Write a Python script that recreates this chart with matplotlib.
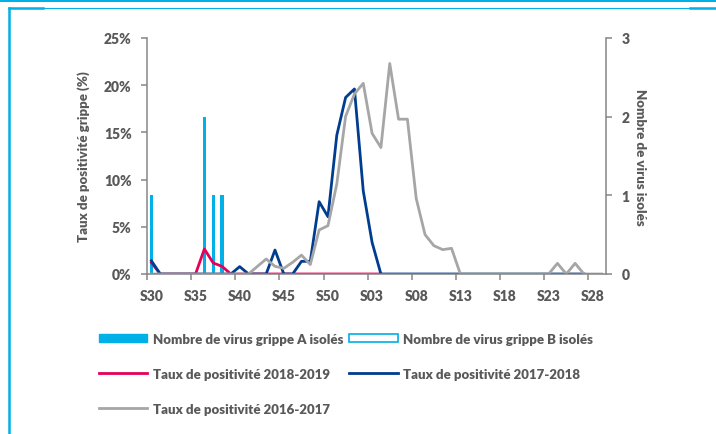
import matplotlib.pyplot as plt
import numpy as np
from matplotlib.patches import Patch
from matplotlib.lines import Line2D

# weeks S30 -> S52, then S01 -> S29
weeks = ['S%02d' % w for w in list(range(30, 53)) + list(range(1, 30))]

# number of influenza A / B viruses isolated (right axis)
virus_a = [1, 0, 0, 0, 0, 0, 2, 1, 1] + [0] * 43
virus_b = [0] * 52

# positivity rate (%) per season (left axis)
taux_2018_2019 = [1.2, 0, 0, 0, 0, 0, 2.65, 1.17, 0.81, 0,
                  0, 0, 0, 0, 0, 0, 0, 0, 0, 0,
                  0, 0, 0, 0, 0, 0, 0]
taux_2017_2018 = [1.4, 0, 0, 0, 0, 0, 0, 0, 0, 0,
                  0.78, 0, 0, 0, 2.54, 0, 0, 1.34, 1.34, 7.66,
                  6.07, 14.7, 18.7, 19.6, 8.8, 3.35, 0, 0, 0, 0,
                  0, 0, 0, 0, 0, 0, 0, 0, 0, 0,
                  0, 0, 0, 0, 0, 0, 0, 0, 0, 0]
taux_2016_2017 = [0, 0, 0, 0, 0, 0, 0, 0, 0, 0,
                  0, 0, 0.8, 1.59, 0.81, 0.6, 1.24, 2.0, 1.0, 4.66,
                  5.12, 9.53, 16.7, 19.07, 20.2, 14.9, 13.4, 22.3, 16.4, 16.4,
                  8.0, 4.17, 3.0, 2.58, 2.72, 0, 0, 0, 0, 0,
                  0, 0, 0, 0, 0, 0, 1.13, 0, 1.13, 0,
                  0, 0]

cyan = '#00B0E6'
red = '#E5005A'
navy = '#003C8F'
grey = '#A6A6A6'
txt = '#595959'
spine_col = '#868686'

plt.rcParams['font.family'] = ['Lato', 'DejaVu Sans']
plt.rcParams['font.weight'] = 'heavy'
fw = 'heavy'
fs = 10

fig = plt.figure(figsize=(7.16, 4.35), dpi=100)
ax = fig.add_axes([147 / 716, 1 - 275 / 435, 459 / 716, 236 / 435])
ax2 = ax.twinx()
ax.set_zorder(2)
ax.patch.set_visible(False)

x = np.arange(len(weeks))

# bars on the secondary axis
ax2.bar(x, virus_a, width=0.36, color=cyan, linewidth=0)
ax2.bar(x, virus_b, width=0.36, bottom=virus_a, color='white', edgecolor=cyan, linewidth=0)

# lines on the primary axis
ax.plot(np.arange(len(taux_2018_2019)), taux_2018_2019, color=red, lw=2)
ax.plot(np.arange(len(taux_2017_2018)), taux_2017_2018, color=navy, lw=2)
ax.plot(np.arange(len(taux_2016_2017)), taux_2016_2017, color=grey, lw=2)

ax.set_xlim(-0.5, len(weeks) - 0.5)
ax.set_ylim(0, 25)
ax2.set_ylim(0, 3)

ax.set_yticks(range(0, 26, 5))
ax.set_yticklabels(['%d%%' % v for v in range(0, 26, 5)])
ax2.set_yticks([0, 1, 2, 3])

# category labels every 5 weeks, tick marks at slot boundaries
ax.set_xticks(x[::5])
ax.set_xticklabels(weeks[::5])
ax.set_xticks(np.arange(-0.5, len(weeks), 5), minor=True)
ax.tick_params(axis='x', which='major', length=0, pad=11, labelsize=fs, colors=txt)
ax.tick_params(axis='x', which='minor', length=4, width=1.1, color=spine_col)
ax.tick_params(axis='y', length=4, width=1.1, color=spine_col, labelcolor=txt, labelsize=fs, pad=7)
ax2.tick_params(axis='y', length=4, width=1.1, color=spine_col, labelcolor=txt, labelsize=fs, pad=7)
for lab in ax.get_xticklabels() + ax.get_yticklabels() + ax2.get_yticklabels():
    lab.set_fontweight(fw)

for a in (ax, ax2):
    a.spines['top'].set_visible(False)
    for s in ('left', 'right', 'bottom'):
        a.spines[s].set_color(spine_col)
        a.spines[s].set_linewidth(1.1)
ax.spines['right'].set_visible(False)
ax2.spines['left'].set_visible(False)
ax2.spines['bottom'].set_visible(False)

ax.set_ylabel('Taux de positivité grippe (%)', color=txt, fontsize=9.5, fontweight=fw)
ax.yaxis.set_label_coords(-0.124, 0.5)
ax2.set_ylabel('Nombre de virus isolés', color=txt, fontsize=9.5, fontweight=fw, rotation=-90)
ax2.yaxis.set_label_coords(1.088, 0.5)

handles = [
    Patch(facecolor=cyan, edgecolor=cyan),
    Line2D([], [], color=red, lw=2),
    Line2D([], [], color=grey, lw=2),
    Patch(facecolor='white', edgecolor=cyan, linewidth=1.2),
    Line2D([], [], color=navy, lw=2),
]
labels = ['Nombre de virus grippe A isolés', 'Taux de positivité 2018-2019',
          'Taux de positivité 2016-2017', 'Nombre de virus grippe B isolés',
          'Taux de positivité 2017-2018']
leg = fig.legend(handles, labels, ncol=2, loc='upper left', bbox_to_anchor=(92 / 716, 1 - 327 / 435),
                 frameon=False, prop={'size': 9.5, 'weight': fw}, handlelength=3.7, handleheight=0.55,
                 handletextpad=0.4, columnspacing=0.45, labelspacing=1.75, borderpad=0)
for t in leg.get_texts():
    t.set_color(txt)

# frame decoration
fig.add_artist(Line2D([0, 1], [1 - 1 / 435, 1 - 1 / 435], color=cyan, lw=2.2, transform=fig.transFigure))
fig.add_artist(Line2D([8.5 / 716, 716 / 716], [1 - 9 / 435, 1 - 9 / 435], color=cyan, lw=0.8, transform=fig.transFigure))
fig.add_artist(Line2D([8.5 / 716, 43 / 716], [1 - 9 / 435, 1 - 9 / 435], color=cyan, lw=1.8, transform=fig.transFigure))
fig.add_artist(Line2D([690 / 716, 716 / 716], [1 - 9 / 435, 1 - 9 / 435], color=cyan, lw=1.8, transform=fig.transFigure))
fig.add_artist(Line2D([8.5 / 716, 8.5 / 716], [0, 1 - 9 / 435], color=cyan, lw=1.8, transform=fig.transFigure))

fig.savefig('out.png', dpi=100)
